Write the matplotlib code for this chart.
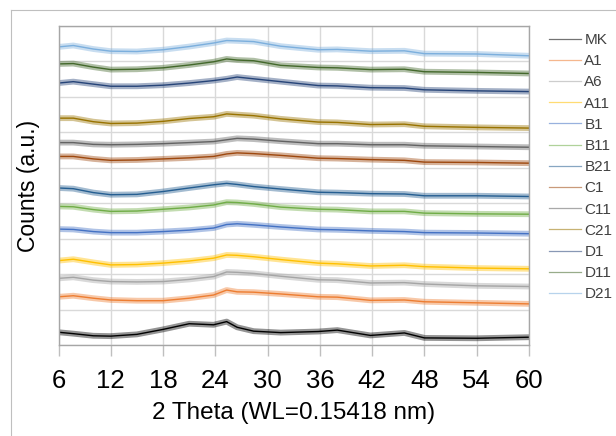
import matplotlib
matplotlib.use("Agg")
import matplotlib.pyplot as plt
from matplotlib import font_manager

names = {f.name for f in font_manager.fontManager.ttflist}
FAM = ["Liberation Sans Narrow", "Liberation Sans", "DejaVu Sans"]
FAM = [f for f in FAM if f in names] or ["DejaVu Sans"]
plt.rcParams["font.family"] = FAM

two_theta = [6, 7.7, 10, 12, 15, 18, 21, 23.8, 25.3, 26.5, 28.4, 31.5, 35.8, 38, 41.8, 45.7, 48, 54, 60]

MK  = [0.36, 0.32, 0.26, 0.25, 0.30, 0.44, 0.60, 0.57, 0.66, 0.50, 0.39, 0.35, 0.38, 0.42, 0.27, 0.34, 0.20, 0.19, 0.22]
A1  = [1.36, 1.39, 1.32, 1.27, 1.25, 1.25, 1.32, 1.41, 1.55, 1.50, 1.49, 1.44, 1.36, 1.35, 1.26, 1.27, 1.22, 1.19, 1.16]
A6  = [1.88, 1.91, 1.83, 1.79, 1.78, 1.79, 1.85, 1.93, 2.06, 2.05, 2.02, 1.94, 1.84, 1.83, 1.75, 1.76, 1.72, 1.67, 1.65]
A11 = [2.38, 2.42, 2.33, 2.26, 2.27, 2.31, 2.37, 2.45, 2.54, 2.53, 2.49, 2.41, 2.31, 2.29, 2.23, 2.25, 2.21, 2.17, 2.15]
B1  = [3.27, 3.26, 3.20, 3.17, 3.17, 3.20, 3.24, 3.30, 3.40, 3.42, 3.39, 3.33, 3.26, 3.25, 3.22, 3.20, 3.17, 3.16, 3.14]
B11 = [3.91, 3.90, 3.82, 3.77, 3.78, 3.83, 3.88, 3.95, 4.03, 4.02, 3.98, 3.89, 3.83, 3.82, 3.77, 3.77, 3.72, 3.70, 3.69]
B21 = [4.43, 4.41, 4.30, 4.24, 4.25, 4.33, 4.43, 4.52, 4.56, 4.53, 4.47, 4.40, 4.31, 4.30, 4.27, 4.26, 4.21, 4.21, 4.19]
C1  = [5.32, 5.32, 5.25, 5.21, 5.22, 5.25, 5.28, 5.32, 5.39, 5.42, 5.40, 5.35, 5.27, 5.26, 5.23, 5.21, 5.16, 5.15, 5.13]
C11 = [5.71, 5.71, 5.66, 5.65, 5.66, 5.68, 5.71, 5.74, 5.79, 5.83, 5.81, 5.75, 5.68, 5.68, 5.65, 5.65, 5.62, 5.60, 5.58]
C21 = [6.40, 6.40, 6.30, 6.25, 6.26, 6.31, 6.39, 6.44, 6.52, 6.50, 6.47, 6.38, 6.29, 6.28, 6.22, 6.23, 6.17, 6.14, 6.12]
D1  = [7.39, 7.43, 7.36, 7.30, 7.30, 7.33, 7.39, 7.46, 7.51, 7.56, 7.51, 7.43, 7.32, 7.31, 7.26, 7.25, 7.20, 7.17, 7.15]
D11 = [7.93, 7.94, 7.84, 7.77, 7.78, 7.82, 7.90, 7.99, 8.07, 8.04, 8.02, 7.89, 7.83, 7.82, 7.77, 7.78, 7.71, 7.69, 7.66]
D21 = [8.41, 8.45, 8.35, 8.29, 8.28, 8.33, 8.42, 8.52, 8.59, 8.58, 8.56, 8.43, 8.33, 8.34, 8.29, 8.30, 8.22, 8.21, 8.16]

labels = ["MK", "A1", "A6", "A11", "B1", "B11", "B21", "C1", "C11", "C21", "D1", "D11", "D21"]
series = [MK, A1, A6, A11, B1, B11, B21, C1, C11, C21, D1, D11, D21]
colors = ["#000000", "#ED7D31", "#A5A5A5", "#FFC000", "#4472C4", "#70AD47",
          "#255E91", "#9E480E", "#636363", "#997300", "#264478", "#43682B", "#7CAFDD"]
xticks = [6, 12, 18, 24, 30, 36, 42, 48, 54, 60]

fig = plt.figure(figsize=(6.16, 4.36), dpi=100)
# outer chart border (left and top visible)
fig.add_artist(plt.Line2D([10.5/616, 10.5/616], [0, 1 - 10.5/436], transform=fig.transFigure, color="#BFBFBF", lw=0.8))
fig.add_artist(plt.Line2D([10.5/616, 1], [1 - 10.5/436, 1 - 10.5/436], transform=fig.transFigure, color="#BFBFBF", lw=0.8))

ax = fig.add_axes([58.5/616, 1 - 345/436, (529 - 58.5)/616, (345 - 26)/436])
handles = []
for y, c, lab in zip(series, colors, labels):
    ax.plot(two_theta, y, color=c, lw=4.2, alpha=0.42, solid_joinstyle="round", solid_capstyle="butt")
    h, = ax.plot(two_theta, y, color=c, lw=1.0, label=lab)
    handles.append(h)

ax.set_xlim(6, 60)
ax.set_ylim(0, 9)
ax.set_xticks(xticks)
ax.set_yticks(range(0, 10))
ax.set_yticklabels([])
ax.tick_params(axis="y", length=0)
ax.tick_params(axis="x", direction="out", length=8, width=1, color="#BFBFBF", pad=9, labelsize=18.5)
ax.grid(True, color="#D9D9D9", lw=1.0)
ax.set_axisbelow(True)
for s in ax.spines.values():
    s.set_color("#A6A6A6")
    s.set_linewidth(1.0)
ax.set_xlabel("2 Theta (WL=0.15418 nm)", fontsize=17.5, labelpad=7)
ax.set_ylabel("Counts (a.u.)", fontsize=16.5, labelpad=10)

leg = fig.legend(handles=handles, loc="upper left", bbox_to_anchor=(543/616, 1 - 27/436),
                 frameon=False, fontsize=11, handlelength=2.1, handletextpad=0.2,
                 labelspacing=0.47, borderaxespad=0)
for ln in leg.get_lines():
    ln.set_linewidth(0.9)
    ln.set_alpha(0.55)
for t in leg.get_texts():
    t.set_color("#404040")

fig.savefig("out.png", dpi=100)
